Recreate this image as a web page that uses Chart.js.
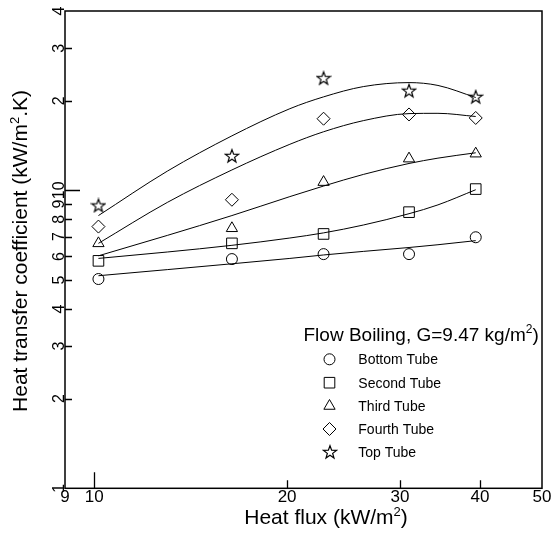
<!DOCTYPE html>
<html><head><meta charset="utf-8">
<script src="https://cdn.jsdelivr.net/npm/chart.js@4.4.0/dist/chart.umd.min.js"></script>
<style>html,body{margin:0;padding:0;background:#fff}canvas{display:block}</style>
</head><body>
<canvas id="c" width="555" height="550"></canvas>
<script>
const FONT = '"Liberation Sans", Arial, Helvetica, sans-serif';

// measured points
const heatFlux   = [10.15, 16.4, 22.8, 31.0, 39.4];
const bottomTube = [5.04, 5.88, 6.11, 6.11, 6.96];
const secondTube = [5.80, 6.64, 7.14, 8.45, 10.1];
const thirdTube  = [6.64, 7.46, 10.66, 12.78, 13.28];
const fourthTube = [7.56, 9.30, 17.4, 17.98, 17.5];
const topTube    = [8.90, 13.05, 23.8, 21.6, 20.6];

// fitted curves
const fitFlux   = [10.15, 13, 16.4, 20.2, 22.8, 26.3, 31, 34.4, 39.4];
const fitBottom = [5.17, 5.42, 5.67, 5.91, 6.07, 6.24, 6.43, 6.57, 6.78];
const fitSecond = [5.91, 6.21, 6.54, 6.92, 7.20, 7.65, 8.35, 8.94, 10.05];
const fitThird  = [6.03, 7.06, 8.23, 9.53, 10.34, 11.31, 12.31, 12.83, 13.37];
const fitFourth = [6.64, 9.11, 11.71, 14.28, 15.73, 17.14, 18.10, 18.14, 17.70];
const fitTop    = [8.23, 11.6, 15.24, 18.8, 20.6, 22.3, 23.0, 22.5, 20.5];

const seriesNames = ['Bottom Tube', 'Second Tube', 'Third Tube', 'Fourth Tube', 'Top Tube'];
const xTickValues = [9, 10, 20, 30, 40, 50];
const xTickLabels = ['9', '10', '20', '30', '40', '50'];
const yTickValues = [1, 2, 3, 4, 5, 6, 7, 8, 9, 10, 20, 30, 40];
const yTickLabels = ['1', '2', '3', '4', '5', '6', '7', '8', '9', '10', '2', '3', '4'];

function makeStar(size, ro, ri) {
  const c = document.createElement('canvas');
  c.width = c.height = size;
  const g = c.getContext('2d');
  const cx = size / 2, cy = size / 2 + 0.5;
  g.beginPath();
  for (let i = 0; i < 10; i++) {
    const r = i % 2 ? ri : ro;
    const a = -Math.PI / 2 + i * Math.PI / 5;
    const px = cx + r * Math.cos(a), py = cy + r * Math.sin(a);
    if (i) g.lineTo(px, py); else g.moveTo(px, py);
  }
  g.closePath();
  g.lineWidth = 1.2;
  g.strokeStyle = '#000';
  g.stroke();
  return c;
}
const starImg = makeStar(16, 6.8, 2.8);

const pointValues = [bottomTube, secondTube, thirdTube, fourthTube, topTube];
const fitValues = [fitBottom, fitSecond, fitThird, fitFourth, fitTop];
const styles = ['circle', 'rect', 'triangle', 'rectRot', starImg];
const radii = [5.5, 7.5, 6.5, 6.5, 6];

const toXY = (xs, ys) => xs.map((x, i) => ({x: x, y: ys[i]}));

const datasets = [];
fitValues.forEach((ys, i) => datasets.push({
  label: seriesNames[i] + ' fit', data: toXY(fitFlux, ys), showLine: true,
  pointRadius: 0, borderColor: '#000', borderWidth: 1, fill: false,
  cubicInterpolationMode: 'monotone'
}));
pointValues.forEach((ys, i) => datasets.push({
  label: seriesNames[i], data: toXY(heatFlux, ys), showLine: false,
  pointStyle: styles[i], pointRadius: radii[i], pointBorderColor: '#000',
  pointBackgroundColor: 'rgba(0,0,0,0)', pointBorderWidth: 1
}));

function drawMarker(ctx, style, x, y, r) {
  ctx.save();
  ctx.strokeStyle = '#000'; ctx.lineWidth = 1;
  ctx.beginPath();
  if (style === 'circle') ctx.arc(x, y, r, 0, Math.PI * 2);
  else if (style === 'rect') { const s = r * Math.SQRT1_2; ctx.rect(x - s, y - s, 2 * s, 2 * s); }
  else if (style === 'triangle') {
    ctx.moveTo(x, y - r);
    ctx.lineTo(x + r * Math.sin(2 * Math.PI / 3), y - r * Math.cos(2 * Math.PI / 3));
    ctx.lineTo(x + r * Math.sin(4 * Math.PI / 3), y - r * Math.cos(4 * Math.PI / 3));
    ctx.closePath();
  } else if (style === 'rectRot') {
    ctx.moveTo(x - r, y); ctx.lineTo(x, y - r); ctx.lineTo(x + r, y); ctx.lineTo(x, y + r); ctx.closePath();
  } else {
    ctx.drawImage(style, Math.round(x - style.width / 2), Math.round(y - style.height / 2));
    ctx.restore(); return;
  }
  ctx.stroke();
  ctx.restore();
}

function textWithSup(ctx, parts, x, y, size) {
  let cx = x;
  parts.forEach((p, i) => {
    if (i % 2 === 0) {
      ctx.font = size + 'px ' + FONT;
      ctx.fillText(p, cx, y);
    } else {
      ctx.font = Math.round(size * 0.62) + 'px ' + FONT;
      ctx.fillText(p, cx, y - size * 0.38);
    }
    cx += ctx.measureText(p).width;
  });
  return cx - x;
}
function measureSup(ctx, parts, size) {
  let w = 0;
  parts.forEach((p, i) => {
    ctx.font = (i % 2 === 0 ? size : Math.round(size * 0.62)) + 'px ' + FONT;
    w += ctx.measureText(p).width;
  });
  return w;
}

const frame = {
  id: 'frame',
  afterDatasetsDraw(chart) {
    const ctx = chart.ctx, a = chart.chartArea;
    const xs = chart.scales.x, ys = chart.scales.y;
    ctx.save();
    ctx.strokeStyle = '#000'; ctx.fillStyle = '#000';
    ctx.lineWidth = 1.5;
    ctx.strokeRect(a.left, a.top, a.right - a.left, a.bottom - a.top);
    ctx.lineWidth = 1.3;
    ctx.beginPath();
    xTickValues.forEach(v => {
      if (v <= 9 || v >= 50) return;
      const px = Math.round(xs.getPixelForValue(v)) + 0.5;
      const len = v === 10 ? 16 : 8;
      ctx.moveTo(px, a.bottom); ctx.lineTo(px, a.bottom - len);
    });
    yTickValues.forEach(v => {
      if (v <= 1 || v >= 40) return;
      const py = Math.round(ys.getPixelForValue(v)) + 0.5;
      const len = v === 10 ? 15 : 7;
      ctx.moveTo(a.left, py); ctx.lineTo(a.left + len, py);
    });
    ctx.stroke();

    // x tick labels
    ctx.font = '17px ' + FONT;
    ctx.textAlign = 'center'; ctx.textBaseline = 'alphabetic';
    xTickValues.forEach((v, i) => ctx.fillText(xTickLabels[i], xs.getPixelForValue(v), a.bottom + 14));
    // y tick labels (rotated)
    ctx.font = '16px ' + FONT;
    yTickValues.forEach((v, i) => {
      ctx.save();
      ctx.translate(a.left - 1.5, ys.getPixelForValue(v));
      ctx.rotate(-Math.PI / 2);
      ctx.textAlign = 'center';
      ctx.fillText(yTickLabels[i], 0, 0);
      ctx.restore();
    });

    // axis titles
    ctx.textAlign = 'left';
    const xt = ['Heat flux (kW/m', '2', ')'];
    const xw = measureSup(ctx, xt, 21);
    textWithSup(ctx, xt, 326 - xw / 2, 524, 21);
    const yt = ['Heat transfer coefficient (kW/m', '2', '.K)'];
    const yw = measureSup(ctx, yt, 21);
    ctx.save();
    ctx.translate(26.5, 251 + yw / 2);
    ctx.rotate(-Math.PI / 2);
    textWithSup(ctx, yt, 0, 0, 21);
    ctx.restore();

    // legend
    textWithSup(ctx, ['Flow Boiling, G=9.47 kg/m', '2', ')'], 303.5, 340.5, 19);
    const rows = [359.3, 382.7, 406, 429, 451.7];
    seriesNames.forEach((n, i) => {
      drawMarker(ctx, styles[i], 329.5, rows[i], radii[i]);
      ctx.font = '14px ' + FONT;
      ctx.fillText(n, 358.3, rows[i] + 5);
    });
    ctx.restore();
  }
};

new Chart(document.getElementById('c'), {
  type: 'scatter',
  data: {datasets: datasets},
  options: {
    responsive: false, animation: false,
    layout: {padding: {left: 65, right: 13, top: 11, bottom: 61.7}},
    plugins: {legend: {display: false}, tooltip: {enabled: false}},
    scales: {
      x: {type: 'logarithmic', min: 9, max: 50,
          grid: {display: false, drawTicks: false}, border: {display: false}, ticks: {display: false}},
      y: {type: 'logarithmic', min: 1, max: 40,
          grid: {display: false, drawTicks: false}, border: {display: false}, ticks: {display: false}}
    }
  },
  plugins: [frame]
});
</script>
</body></html>
